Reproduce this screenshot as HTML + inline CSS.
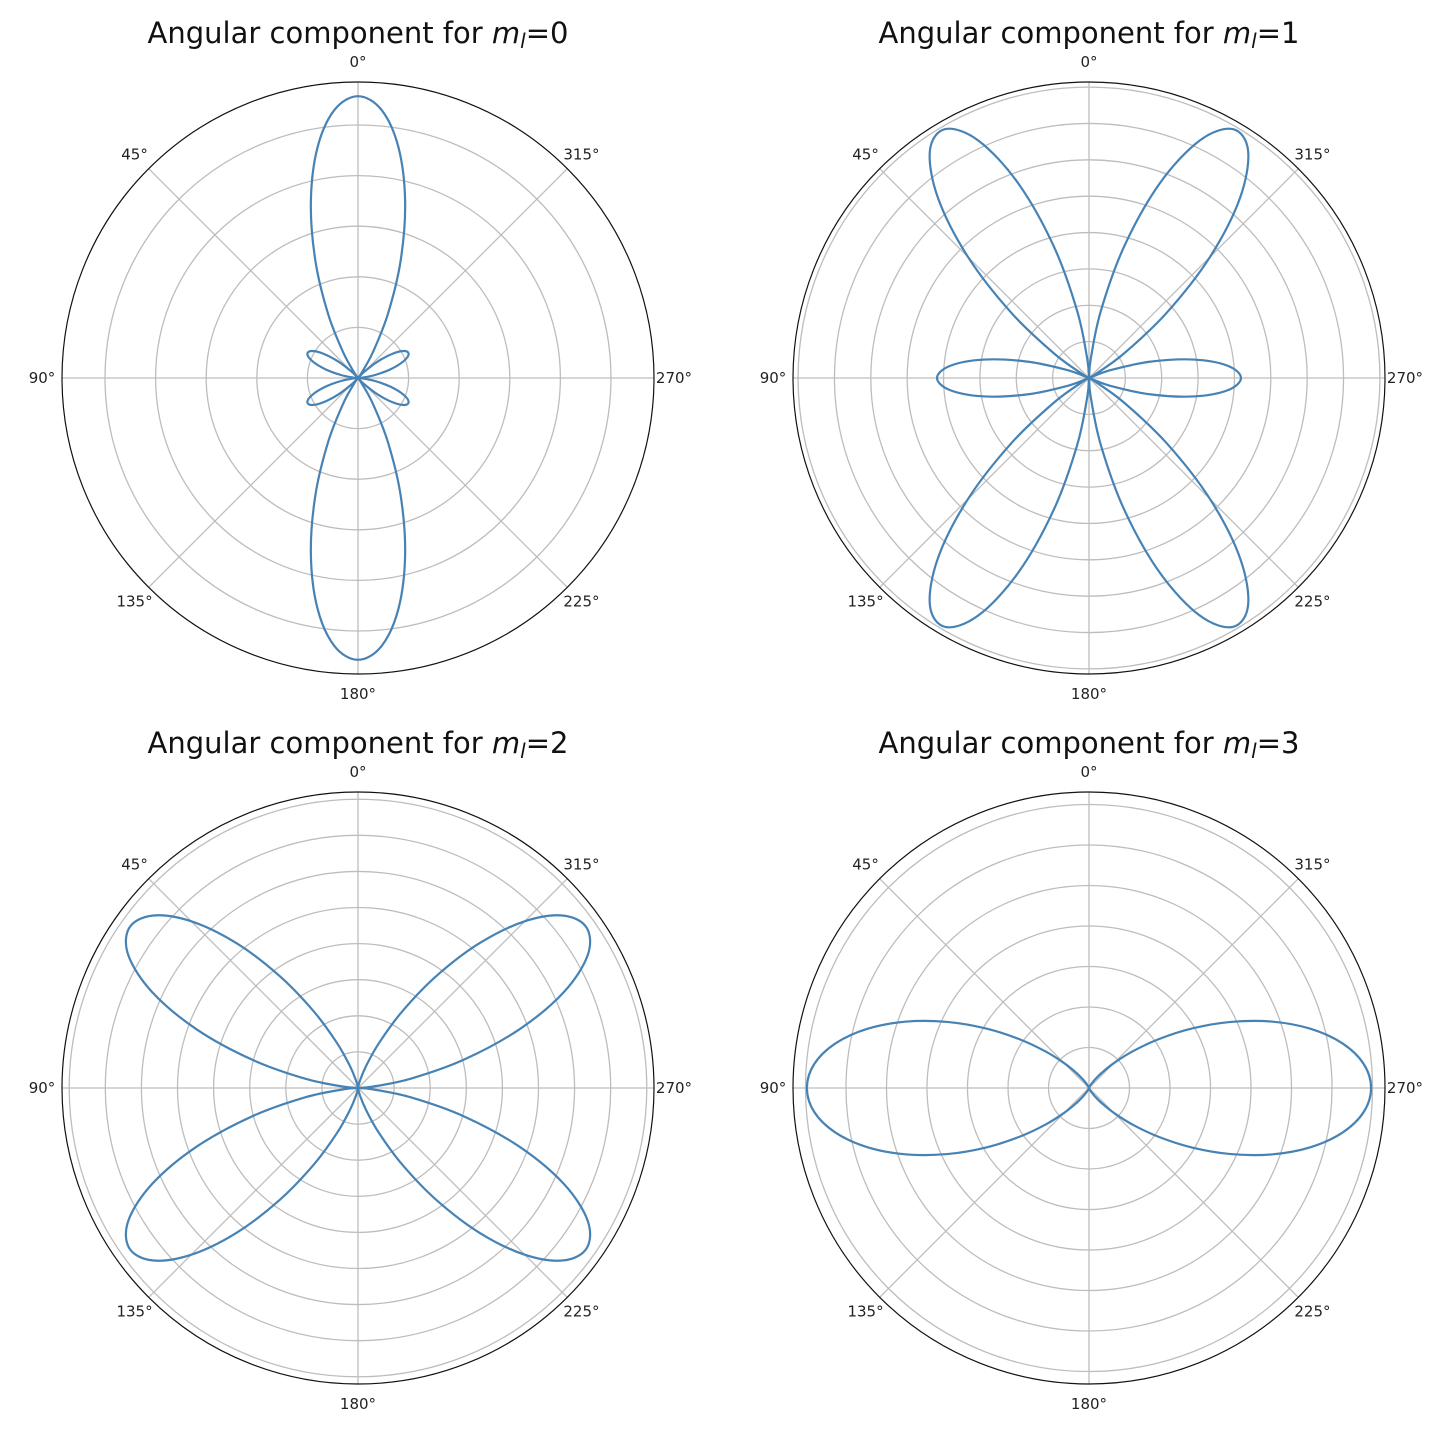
<!DOCTYPE html>
<html><head><meta charset="utf-8"><style>
html,body{margin:0;padding:0;background:#fff;}
svg{display:block;font-family:"DejaVu Sans","Liberation Sans",sans-serif;}
</style></head><body>
<svg id="fig" width="1442" height="1436" viewBox="0 0 1442 1436"></svg>
<script>
// polar angles (degrees from top, counterclockwise) of the samples, 0..90 step 5
const sampleAngles = [0,5,10,15,20,25,30,35,40,45,50,55,60,65,70,75,80,85,90];
// |Y_3^m|^2 values (mirror-symmetric about both axes)
const valuesM0 = [.557,.532,.462,.360,.246,.140,.0588,.0118,.0004,.0174,.0502,.0841,.1066,.1104,.0950,.0663,.0341,.0093,0];
const valuesM1 = [0,.0125,.0467,.0940,.1426,.1802,.1976,.1907,.1615,.1176,.0697,.0292,.0049,.0010,.0159,.0431,.0731,.0959,.1045];
const valuesM2 = [0,.00006,.00092,.00438,.01263,.0274,.0490,.0758,.1047,.1306,.1486,.1547,.1469,.1259,.0953,.0609,.0297,.0078,0];
const valuesM3 = [0,0,.0000048,.0000524,.00028,.00099,.00272,.0062,.01228,.02176,.0352,.0526,.0735,.0965,.1199,.1414,.1588,.1702,.1741];
const mLabels = ["0","1","2","3"];
const rMaxes = [0.585,0.2035,0.164,0.1827];
const rTickSteps = [0.1,0.025,0.02,0.025];
const angleTickLabels = ["0°","45°","90°","135°","180°","225°","270°","315°"];

const NS="http://www.w3.org/2000/svg";
const svg=document.getElementById('fig');
function mk(tag,attrs,parent){const e=document.createElementNS(NS,tag);for(const k in attrs)e.setAttribute(k,attrs[k]);(parent||svg).appendChild(e);return e;}
const centers=[[358,378],[1089,378],[358,1088],[1089,1088]];
const R=296;
const allValues=[valuesM0,valuesM1,valuesM2,valuesM3];

centers.forEach((c,i)=>{
  const cx=c[0],cy=c[1];
  const g=mk('g',{});
  
  
  const rScale=v=>v/rMaxes[i]*R;
  const pt=(phiDeg,r)=>{const p=phiDeg*Math.PI/180;return [cx-r*Math.sin(p),cy-r*Math.cos(p)];};
  const nRings=Math.round(rMaxes[i]/rTickSteps[i]-0.5);
  for(let k=1;k<=nRings;k++){
    const v=k*rTickSteps[i];
    if(v>=rMaxes[i])break;
    const ring=mk('circle',{cx:cx,cy:cy,r:rScale(v),fill:'none',stroke:'#bdbdbd','stroke-width':1.3},g);
    
    
  }
  for(let k=0;k<8;k++){
    const e1=pt(k*45,R);
    const l=mk('line',{x1:cx,y1:cy,x2:e1[0],y2:e1[1],stroke:'#bdbdbd','stroke-width':1.3},g);
    
    
    const tp=pt(k*45,R+20);
    const t=mk('text',{x:tp[0],y:tp[1]+5,'text-anchor':'middle','font-size':15,fill:'#222'},g);
    t.textContent=angleTickLabels[k];
    
    
  }
  const outer=mk('circle',{cx:cx,cy:cy,r:R,fill:'none',stroke:'#111','stroke-width':1.2},g);
  
  
  const vals=allValues[i];
  const n=sampleAngles.length;
  const half=[];
  for(let j=0;j<n;j++)half.push([sampleAngles[j],vals[j]]);
  for(let j=n-2;j>=0;j--)half.push([180-sampleAngles[j],vals[j]]);
  const ext=half.slice();
  for(let j=half.length-2;j>=1;j--)ext.push([360-half[j][0],half[j][1]]);
  const pts=ext.map(a=>pt(a[0],rScale(a[1])));
  const N=pts.length;
  let d='M'+pts[0][0].toFixed(2)+','+pts[0][1].toFixed(2);
  for(let j=0;j<N;j++){
    const p0=pts[(j-1+N)%N],p1=pts[j],p2=pts[(j+1)%N],p3=pts[(j+2)%N];
    const c1=[p1[0]+(p2[0]-p0[0])/6,p1[1]+(p2[1]-p0[1])/6];
    const c2=[p2[0]-(p3[0]-p1[0])/6,p2[1]-(p3[1]-p1[1])/6];
    d+='C'+c1[0].toFixed(2)+','+c1[1].toFixed(2)+' '+c2[0].toFixed(2)+','+c2[1].toFixed(2)+' '+p2[0].toFixed(2)+','+p2[1].toFixed(2);
  }
  const path=mk('path',{d:d,fill:'none',stroke:'#4682b4','stroke-width':2.2,'stroke-linejoin':'round'},g);
  
  
  const t=mk('text',{x:cx,y:cy-335,'text-anchor':'middle','font-size':29,fill:'#111'},g);
  
  
  const a=mk('tspan',{},t);a.textContent='Angular component for ';
  const m=mk('tspan',{'font-style':'italic'},t);m.textContent='m';
  const l=mk('tspan',{'font-style':'italic','font-size':20,dy:5},t);l.textContent='l';
  const e=mk('tspan',{dy:-5},t);e.textContent='='+mLabels[i];
});
</script>
</body></html>
